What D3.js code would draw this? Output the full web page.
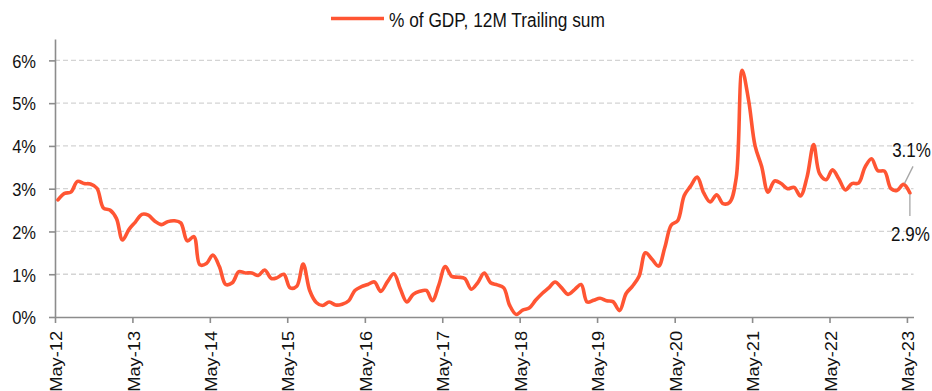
<!DOCTYPE html>
<html>
<head>
<meta charset="utf-8">
<script src="https://cdn.jsdelivr.net/npm/d3@7/dist/d3.min.js"></script>
<style>
  html, body { margin: 0; padding: 0; background: #fff; }
  svg { display: block; font-family: "Liberation Sans", Arial, sans-serif; }
</style>
</head>
<body>
<svg id="chart" width="932" height="391"></svg>
<script>
// Monthly series, May-12 .. May-23 (% of GDP, 12M trailing sum)
const seriesName = "% of GDP, 12M Trailing sum";
const startYear = 2012, startMonth = 4; // May 2012
const values = [
  2.74, 2.89, 2.92, 3.17, 3.12, 3.11, 3.01, 2.55, 2.50, 2.30, 1.80, 2.05,
  2.22, 2.40, 2.38, 2.24, 2.16, 2.23, 2.25, 2.20, 1.78, 1.88, 1.22, 1.25,
  1.45, 1.18, 0.76, 0.80, 1.06, 1.03, 1.03, 0.97, 1.10, 0.90, 0.92, 1.00,
  0.68, 0.72, 1.24, 0.62, 0.34, 0.27, 0.35, 0.28, 0.30, 0.38, 0.62, 0.71,
  0.76, 0.82, 0.60, 0.82, 1.01, 0.66, 0.35, 0.53, 0.60, 0.62, 0.38, 0.75,
  1.18, 0.95, 0.93, 0.90, 0.65, 0.80, 1.03, 0.80, 0.75, 0.68, 0.27, 0.06,
  0.16, 0.21, 0.39, 0.55, 0.68, 0.82, 0.68, 0.53, 0.64, 0.76, 0.35, 0.39,
  0.44, 0.38, 0.36, 0.15, 0.55, 0.72, 0.95, 1.50, 1.35, 1.19, 1.62, 2.15,
  2.25, 2.84, 3.06, 3.27, 2.90, 2.69, 2.86, 2.65, 2.68, 3.25, 5.77, 5.05,
  4.00, 3.52, 2.92, 3.18, 3.12, 3.00, 3.03, 2.83, 3.27, 4.03, 3.35, 3.21,
  3.44, 3.22, 2.97, 3.12, 3.13, 3.50, 3.70, 3.42, 3.41, 3.00, 2.96, 3.10,
  2.90
];
const xTickLabels = ["May-12","May-13","May-14","May-15","May-16","May-17",
                     "May-18","May-19","May-20","May-21","May-22","May-23"];
const yTickValues = [0, 1, 2, 3, 4, 5, 6];

const lineColor = "#ff5533";
const axisColor = "#8c8c8c";
const textColor = "#111";
const stretch = 1.14; // vertical stretch of glyphs

const data = values.map((v, i) => ({ date: new Date(startYear, startMonth + i, 15), value: v }));
const tickDates = xTickLabels.map((_, i) => new Date(startYear + i, startMonth, 1));

const svg = d3.select("#chart");

const x = d3.scaleTime()
  .domain([new Date(2012, 4, 1), new Date(2023, 5, 1)])
  .range([55, 913.5]);
const y = d3.scaleLinear().domain([0, 6.5]).range([317, 39]);

// gridlines
svg.append("g")
  .selectAll("line")
  .data(yTickValues.filter(d => d > 0))
  .join("line")
  .attr("x1", 55).attr("x2", 913.5)
  .attr("y1", d => y(d)).attr("y2", d => y(d))
  .attr("stroke", "#d4d4d4")
  .attr("stroke-width", 1.3)
  .attr("stroke-dasharray", "5,3");

// y axis
const yAxis = svg.append("g")
  .attr("transform", "translate(55,0)")
  .call(d3.axisLeft(y).tickValues(yTickValues).tickSize(6).tickSizeOuter(0)
        .tickFormat(d => d + "%"));
yAxis.select(".domain").attr("stroke", axisColor).attr("stroke-width", 1.6);
yAxis.selectAll(".tick line").attr("stroke", axisColor).attr("stroke-width", 1.6);
yAxis.selectAll(".tick text")
  .attr("x", -19).attr("dy", "0.36em")
  .attr("transform", `scale(1,${stretch})`)
  .attr("fill", textColor)
  .style("font-size", "16.5px");

// x axis
const xAxis = svg.append("g")
  .attr("transform", "translate(0,317)")
  .call(d3.axisBottom(x).tickValues(tickDates).tickSize(6).tickSizeOuter(0)
        .tickFormat((d, i) => xTickLabels[i]));
xAxis.select(".domain").attr("stroke", axisColor).attr("stroke-width", 1.6);
xAxis.selectAll(".tick line").attr("stroke", axisColor).attr("stroke-width", 1.6);
xAxis.selectAll(".tick text")
  .attr("text-anchor", "end")
  .attr("x", -14 / stretch).attr("y", 0).attr("dy", "0.42em")
  .attr("transform", `rotate(-90) scale(${stretch},1)`)
  .attr("fill", textColor)
  .style("font-size", "16px");
svg.selectAll(".tick text").style("font-family", "'Liberation Sans', Arial, sans-serif");

// series line
const line = d3.line()
  .x(d => x(d.date))
  .y(d => y(d.value))
  .curve(d3.curveCatmullRom.alpha(0.5));
svg.append("path")
  .datum(data)
  .attr("fill", "none")
  .attr("stroke", lineColor)
  .attr("stroke-width", 3.6)
  .attr("stroke-linejoin", "round")
  .attr("stroke-linecap", "round")
  .attr("d", line);

// end-point labels
const fmt = v => v.toFixed(1) + "%";
const prev = data[data.length - 2], last = data[data.length - 1];
const pPrev = [x(prev.date), y(prev.value)], pLast = [x(last.date), y(last.value)];

const ann = svg.append("g");
ann.append("line")
  .attr("x1", pPrev[0] + 1).attr("y1", pPrev[1] - 1)
  .attr("x2", pPrev[0] + 9.5).attr("y2", pPrev[1] - 18)
  .attr("stroke", "#a6a6a6").attr("stroke-width", 1.3);
ann.append("text")
  .attr("transform", `translate(${pPrev[0] + 8},${pPrev[1] - 27}) scale(1,${stretch})`)
  .attr("text-anchor", "middle")
  .attr("fill", textColor)
  .style("font-size", "17px")
  .text(fmt(prev.value));
ann.append("line")
  .attr("x1", pLast[0]).attr("y1", pLast[1] + 1)
  .attr("x2", pLast[0]).attr("y2", pLast[1] + 23)
  .attr("stroke", "#a6a6a6").attr("stroke-width", 1.3);
ann.append("text")
  .attr("transform", `translate(${pLast[0] + 0.5},${pLast[1] + 48}) scale(1,${stretch})`)
  .attr("text-anchor", "middle")
  .attr("fill", textColor)
  .style("font-size", "17px")
  .text(fmt(last.value));

// legend
const legend = svg.append("g").attr("transform", "translate(331,18.5)");
legend.append("line")
  .attr("x1", 0).attr("x2", 53).attr("y1", 0).attr("y2", 0)
  .attr("stroke", lineColor).attr("stroke-width", 3.6);
legend.append("text")
  .attr("transform", `translate(58,8) scale(1,1.2)`)
  .attr("fill", textColor)
  .style("font-size", "17.3px")
  .text(seriesName);
</script>
</body>
</html>
